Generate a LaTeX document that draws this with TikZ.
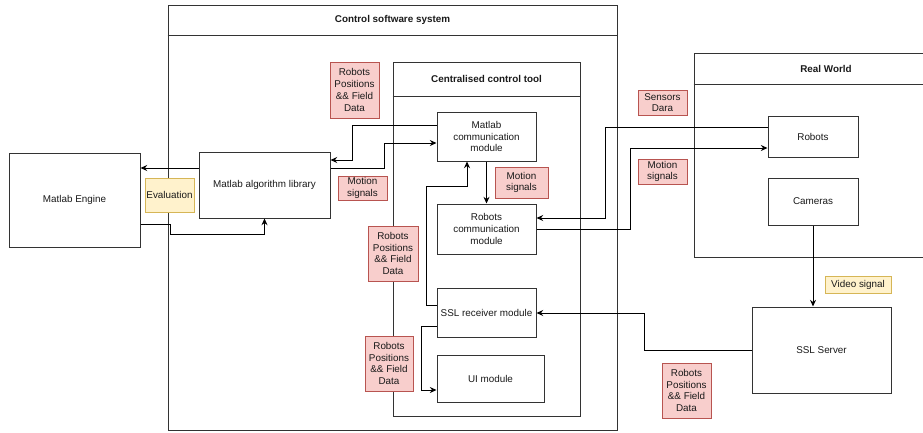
\documentclass[tikz,border=0pt]{standalone}
\usepackage{fontspec}
\setmainfont{Liberation Sans}
\usetikzlibrary{arrows.meta}
\definecolor{redf}{HTML}{F8CECC}
\definecolor{redd}{HTML}{B85450}
\definecolor{yelf}{HTML}{FFF2CC}
\definecolor{yeld}{HTML}{D6B656}
\definecolor{bordc}{HTML}{333333}
\definecolor{textc}{HTML}{1A1A1A}
\begin{document}
\begin{tikzpicture}[x=0.75pt,y=-0.75pt,
  font=\fontsize{7.4}{8.8}\selectfont,
  sz/.style 2 args={minimum width=#1*0.75pt, minimum height=#2*0.75pt},
  box/.style={draw=bordc, fill=white, line width=0.75pt, align=center, inner sep=1pt, text=textc},
  frame/.style={draw=bordc, line width=0.75pt, inner sep=0pt},
  ttl/.style={font=\fontsize{7.4}{8.8}\selectfont\bfseries, text=textc},
  note/.style={draw=redd, fill=redf, line width=0.75pt, align=center, inner sep=1pt, text=textc},
  ynote/.style={draw=yeld, fill=yelf, line width=0.75pt, align=center, inner sep=1pt, text=textc},
  arr/.style={draw=black, line width=0.75pt, -{Stealth[length=5pt,width=4.5pt]}}]
\useasboundingbox (0,0) rectangle (923,432);
% containers
\node[frame, sz={449}{425}] (css) at (392.5,217.5) {};
\draw[bordc, line width=0.75pt] (css.west |- 0,35) -- (css.east |- 0,35);
\node[ttl] (csst) at (392.5,20) {Control software system};
\node[frame, sz={187}{354}] (cct) at (486.5,239) {};
\draw[bordc, line width=0.75pt] (cct.west |- 0,96) -- (cct.east |- 0,96);
\node[ttl] (cctt) at (486.5,79) {Centralised control tool};
\node[frame, sz={264}{204}] (rw) at (826,155) {};
\draw[bordc, line width=0.75pt] (rw.west |- 0,84) -- (rw.east |- 0,84);
\node[ttl] (rwt) at (826,68.5) {Real World};
% boxes
\node[box, sz={131}{94}] (eng) at (74.5,200) {Matlab Engine};
\node[box, sz={131}{66}] (lib) at (264.5,185) {Matlab algorithm library};
\node[box, sz={99}{49}] (mcm) at (486.5,136.5) {Matlab\\communication\\module};
\node[box, sz={99}{50}] (rcm) at (486.5,229) {Robots\\communication\\module};
\node[box, sz={99}{49}] (sslr) at (486.5,312.5) {SSL receiver module};
\node[box, sz={107}{47}] (ui) at (490.5,378.5) {UI module};
\node[box, sz={90}{41}] (rob) at (813,136.5) {Robots};
\node[box, sz={90}{47}] (cam) at (813,201.5) {Cameras};
\node[box, sz={139}{86}] (ssl) at (821.5,350) {SSL Server};
% connectors
\draw[arr] (lib.west |- 0,168) -- (eng.east |- 0,168);
\draw[arr] (eng.east |- 0,224) -- (170,224) |- (lib.south |- 0,234) -- (lib.south);
\draw[arr] (mcm.west |- 0,125) -- (352,125) |- (lib.east |- 0,160);
\draw[arr] (lib.east |- 0,168) -- (384,168) |- (mcm.west |- 0,143);
\draw[arr] (mcm.south) -- (rcm.north);
\draw[arr] (sslr.west |- 0,305) -- (426,305) |- (467,186) -- (mcm.south -| 467,0);
\draw[arr] (sslr.west |- 0,326) -- (421,326) |- (ui.west |- 0,390);
\draw[arr] (ssl.west |- 0,350) -- (644,350) |- (sslr.east |- 0,313);
\draw[arr] (rob.west |- 0,127) -- (605,127) |- (rcm.east |- 0,218);
\draw[arr] (rcm.east |- 0,229) -- (630,229) |- (rob.west |- 0,148);
\draw[arr] (cam.south) -- (cam.south |- ssl.north);
% notes
\node[ynote, sz={49}{34}] (eval) at (169.5,195) {Evaluation};
\node[ynote, sz={66}{17}] (vs) at (858,284.5) {Video signal};
\node[note, sz={49}{56}] (rp1) at (354.5,90) {Robots\\Positions\\\&\& Field\\Data};
\node[note, sz={49}{24}] (ms0) at (362.5,188) {Motion\\signals};
\node[note, sz={53}{31}] (ms1) at (521.5,182.5) {Motion\\signals};
\node[note, sz={50}{55}] (rp2) at (393,253.5) {Robots\\Positions\\\&\& Field\\Data};
\node[note, sz={48}{55}] (rp3) at (389,363.5) {Robots\\Positions\\\&\& Field\\Data};
\node[note, sz={49}{25}] (sd) at (662.5,102.5) {Sensors\\Dara};
\node[note, sz={49}{25}] (ms2) at (662.5,171.5) {Motion\\signals};
\node[note, sz={49}{55}] (rp4) at (686.5,390.5) {Robots\\Positions\\\&\& Field\\Data};
\end{tikzpicture}
\end{document}
